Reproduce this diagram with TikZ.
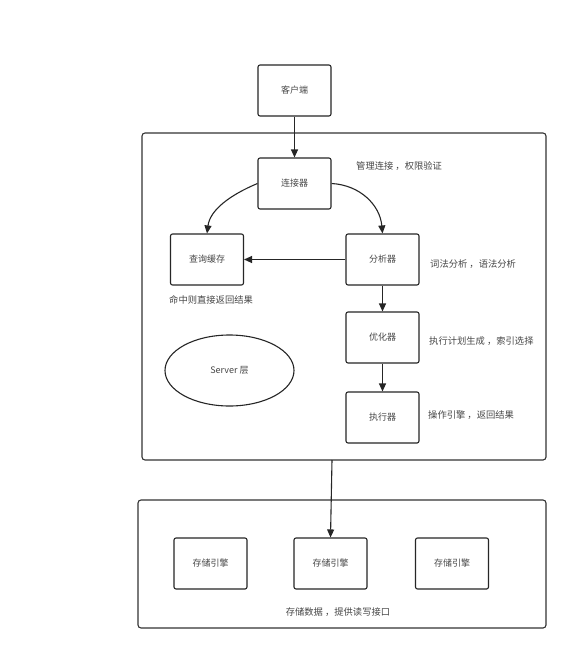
\documentclass[tikz,border=0pt]{standalone}
\usepackage{fontspec}
\setmainfont{Noto Sans CJK SC}
\usetikzlibrary{arrows.meta,shapes.geometric}
\begin{document}
\begin{tikzpicture}[x=1pt,y=-1pt,
  box/.style={draw=black!85,line width=1.1pt,rounded corners=2pt,minimum width=73pt,minimum height=51pt,inner sep=0pt,font=\fontsize{9}{10}\selectfont,text=black!72},
  frame/.style={draw=black!80,line width=1.1pt,rounded corners=3pt},
  lbl/.style={font=\fontsize{9.3}{10}\selectfont,text=black!72,inner sep=0pt,anchor=west},
  arr/.style={draw=black!85,line width=1.1pt,-{Triangle[length=8pt,width=7pt]}}]
\useasboundingbox (0,0) rectangle (588,664);
\fill[white] (0,0) rectangle (588,664);
% frames
\draw[frame] (142,133) rectangle (546,460);
\draw[frame] (138,500) rectangle (546,628);
% nodes
\node[box] (client) at (294.5,90.5) {客户端};
\node[box] (conn) at (294.5,183.5) {连接器};
\node[box] (cache) at (207,259.5) {查询缓存};
\node[box] (ana) at (382.5,259.5) {分析器};
\node[box] (opt) at (382.5,337.5) {优化器};
\node[box] (exe) at (382.5,417.5) {执行器};
\node[draw=black!85,line width=1.1pt,ellipse,minimum width=129pt,minimum height=71pt,inner sep=0pt,font=\fontsize{9}{10}\selectfont,text=black!72] (srv) at (229.5,370.5) {Server 层};
\node[box] (e1) at (210.5,563.5) {存储引擎};
\node[box] (e2) at (330.5,563.5) {存储引擎};
\node[box] (e3) at (452,563.5) {存储引擎};
% labels
\node[lbl] (l1) at (356,166) {管理连接 ，权限验证};
\node[lbl] (l2) at (430,264) {词法分析 ，语法分析};
\node[lbl] (l3) at (169,300) {命中则直接返回结果};
\node[lbl] (l4) at (429,341) {执行计划生成 ，索引选择};
\node[lbl] (l5) at (428,415) {操作引擎 ，返回结果};
\node[font=\fontsize{9.3}{10}\selectfont,text=black!72,inner sep=0pt] (l6) at (338,612) {存储数据 ，提供读写接口};
% connectors
\coordinate (sb) at (332,460);
\draw[arr] (client) -- (conn);
\draw[arr] (conn.west) .. controls (230,195) and (210,210) .. (cache.north);
\draw[arr] (conn.east) .. controls (360,185) and (380,205) .. (ana.north);
\draw[arr] (ana) -- (cache);
\draw[arr] (ana) -- (opt);
\draw[arr] (opt) -- (exe);
\draw[arr] (sb) -- (e2.north);
\end{tikzpicture}
\end{document}
